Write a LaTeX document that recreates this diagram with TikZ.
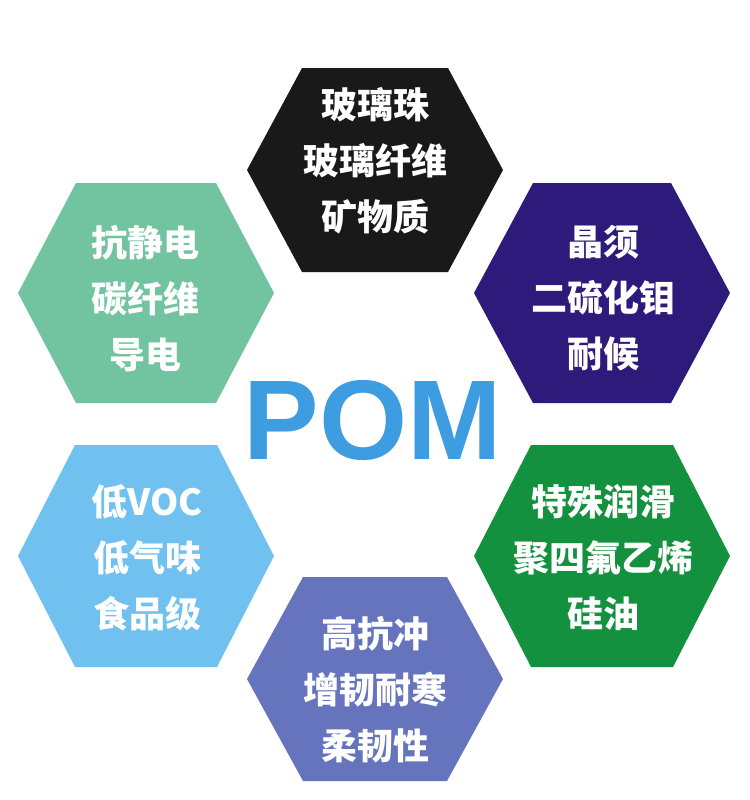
\documentclass[tikz,border=0pt]{standalone}
\usepackage{fontspec}
\usepackage{xcolor}
\usepackage{tikz}
\usetikzlibrary{calc}
\setmainfont{Liberation Sans}
\newfontfamily\cjk{Noto Sans CJK SC}
\definecolor{hexBlack}{HTML}{191919}
\definecolor{hexMint}{HTML}{72C3A0}
\definecolor{hexNavy}{HTML}{2D1A7A}
\definecolor{hexSky}{HTML}{70C1F0}
\definecolor{hexGreen}{HTML}{14913F}
\definecolor{hexSlate}{HTML}{6574BC}
\definecolor{pomBlue}{HTML}{3E9CE0}
\newcommand{\HexTile}[4]{
	\def\lpin{#1}
	\def\lcolor{#2}
	\def\lhalfh{#3}
	\def\lhalft{#4}
	\def\lwid{128}
	\fill[\lcolor] ($(\lpin)+(-\lwid,0)$) -- ($(\lpin)+(-\lhalft,-\lhalfh)$) -- ($(\lpin)+(\lhalft,-\lhalfh)$)
		-- ($(\lpin)+(\lwid,0)$) -- ($(\lpin)+(\lhalft,\lhalfh)$) -- ($(\lpin)+(-\lhalft,\lhalfh)$) -- cycle;
}
\tikzset{
	cell/.style={text=white, align=center, inner sep=0pt, font=\cjk\bfseries\fontsize{27pt}{42pt}\selectfont},
}
\begin{document}
\begin{tikzpicture}[x=0.75pt, y=-0.75pt]

  \fill[white] (0,0) rectangle (750,800);
  \useasboundingbox (0,0) rectangle (750,800);

  \coordinate (G) at (375,170);
  \coordinate (S) at (146,293);
  \coordinate (W) at (602,293);
  \coordinate (V) at (146,556);
  \coordinate (L) at (602,556);
  \coordinate (T) at (375,679);

  \HexTile{G}{hexBlack}{102}{73}
  \HexTile{S}{hexMint}{110}{70}
  \HexTile{W}{hexNavy}{110}{69}
  \HexTile{V}{hexSky}{111}{71}
  \HexTile{L}{hexGreen}{111}{71}
  \HexTile{T}{hexSlate}{102}{72}

  \node[cell] (glass) at (375,161) {玻璃珠\\玻璃纤维\\矿物质};
  \node[cell] (static) at (145,299) {抗静电\\碳纤维\\导电};
  \node[cell] (whisker) at (603,298) {晶须\\二硫化钼\\耐候};
  \node[cell] (voc) at (147,558) {低VOC\\低气味\\食品级};
  \node[cell] (lube) at (603,558) {特殊润滑\\聚四氟乙烯\\硅油};
  \node[cell] (tough) at (375,690) {高抗冲\\增韧耐寒\\柔韧性};

  \node[anchor=base, inner sep=0pt, text=pomBlue, font=\bfseries\fontsize{85pt}{90pt}\selectfont] (pom) at (373,459) {POM};

\end{tikzpicture}
\end{document}
